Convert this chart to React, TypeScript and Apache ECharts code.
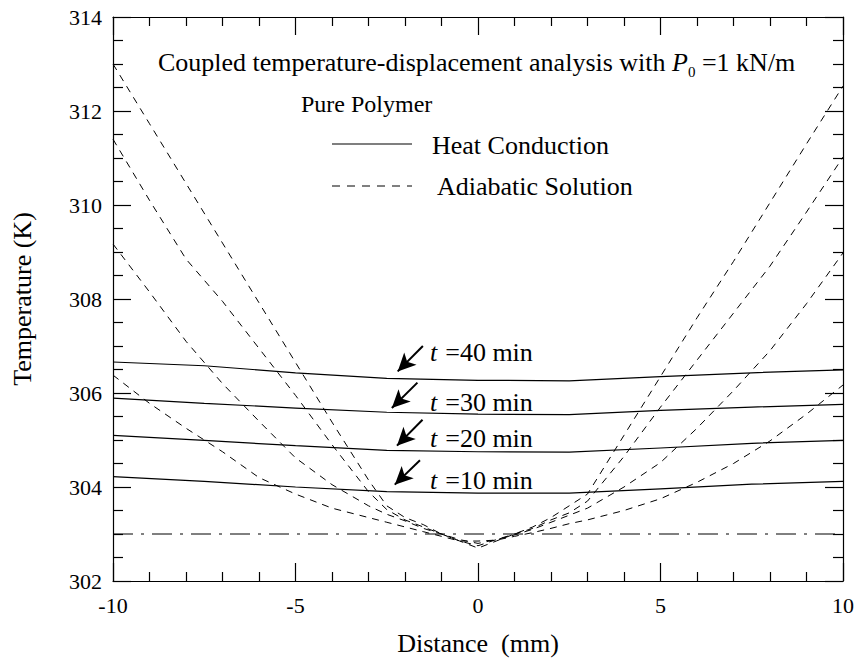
import React, { useEffect, useRef } from 'react';
import * as echarts from 'echarts';

const FONT = '"Liberation Serif", "Times New Roman", serif';

// Adiabatic solution (dashed) – sampled positions (mm)
const adiabaticX = [-10, -9, -8, -7, -6, -5, -4, -3, -2.5, -2, -1.5, -1, -0.5, 0, 0.5, 1, 1.5, 2, 2.5, 3, 4, 5, 6, 7, 8, 9, 10];
const adiabatic40 = [313.0, 311.73, 310.46, 309.19, 307.92, 306.65, 305.38, 304.15, 303.6, 303.35, 303.2, 303.0, 302.85, 302.7, 302.85, 303.0, 303.15, 303.35, 303.6, 303.85, 305.1, 306.35, 307.6, 308.8, 310.05, 311.3, 312.53];
const adiabatic30 = [311.4, 310.1, 308.85, 307.95, 306.95, 305.95, 304.9, 303.9, 303.52, 303.3, 303.15, 303.0, 302.85, 302.75, 302.88, 303.0, 303.12, 303.3, 303.45, 303.7, 304.65, 305.7, 306.7, 307.7, 308.7, 309.85, 311.02];
const adiabatic20 = [309.17, 308.15, 307.1, 306.2, 305.4, 304.62, 304.05, 303.6, 303.42, 303.28, 303.12, 303.0, 302.88, 302.8, 302.88, 302.98, 303.1, 303.25, 303.4, 303.55, 304.0, 304.52, 305.25, 306.05, 306.9, 307.9, 308.98];
const adiabatic10 = [306.38, 305.78, 305.25, 304.75, 304.2, 303.85, 303.55, 303.35, 303.25, 303.15, 303.05, 302.95, 302.85, 302.85, 302.87, 302.95, 303.03, 303.12, 303.22, 303.3, 303.5, 303.75, 304.1, 304.5, 304.98, 305.55, 306.17];

// Heat conduction (solid)
const conductionX = [-10, -7.5, -5, -2.5, 0, 2.5, 5, 7.5, 10];
const conduction10 = [304.22, 304.12, 304.0, 303.9, 303.87, 303.87, 303.96, 304.06, 304.12];
const conduction20 = [305.10, 304.99, 304.88, 304.78, 304.75, 304.74, 304.83, 304.93, 304.99];
const conduction30 = [305.89, 305.78, 305.68, 305.59, 305.55, 305.54, 305.63, 305.70, 305.76];
const conduction40 = [306.66, 306.58, 306.43, 306.31, 306.27, 306.26, 306.35, 306.43, 306.49];

// Initial temperature reference line
const initialX = [-10, 10];
const initialT = [303, 303];

// Arrow annotations (tail -> head, data units)
const arrowLabels = ['40', '30', '20', '10'];
const arrowTail = [[-1.51, 307.0], [-1.66, 306.22], [-1.52, 305.43], [-1.59, 304.57]];
const arrowHead = [[-2.2, 306.46], [-2.36, 305.68], [-2.22, 304.88], [-2.28, 304.05]];

const legendNames = ['Heat Conduction', 'Adiabatic Solution'];

const xTicks = { min: -10, max: 10, interval: 5 };
const yTicks = { min: 302, max: 314, interval: 2 };

const zip = (xs: number[], ys: number[]) => xs.map((x, i) => [x, ys[i]]);

export default function App() {
  const ref = useRef<HTMLDivElement>(null);
  useEffect(() => {
    const chart = echarts.init(ref.current!, null, { renderer: 'svg' });
    const axisCommon = {
      type: 'value' as const,
      axisLine: { show: true, onZero: false, lineStyle: { color: '#000', width: 1.2 } },
      axisTick: { show: true, inside: true, length: 18, lineStyle: { color: '#000', width: 1.2 } },
      splitLine: { show: false },
    };
    const solid = (ys: number[]) => ({
      type: 'line', name: legendNames[0], data: zip(conductionX, ys), symbol: 'none',
      lineStyle: { color: '#000', width: 1.2, type: 'solid' }, itemStyle: { color: '#000' }, z: 3,
    });
    const dashed = (ys: number[]) => ({
      type: 'line', name: legendNames[1], data: zip(adiabaticX, ys), symbol: 'none',
      lineStyle: { color: '#000', width: 1, type: [7, 6] }, itemStyle: { color: '#000' }, z: 2,
    });
    const textY = [352, 402, 438, 480];
    chart.setOption({
      animation: false,
      backgroundColor: '#fff',
      grid: { left: 113, top: 17, width: 730, height: 569, containLabel: false },
      xAxis: [
        {
          ...axisCommon, ...xTicks, position: 'bottom',
          minorTick: { show: true, splitNumber: 5, length: 9, lineStyle: { color: '#000', width: 1.2 } },
          axisLabel: { color: '#000', fontFamily: FONT, fontSize: 22, margin: 13 },
          name: 'Distance  (mm)', nameLocation: 'middle', nameGap: 49,
          nameTextStyle: { color: '#000', fontFamily: FONT, fontSize: 26 },
        },
        {
          ...axisCommon, ...xTicks, position: 'top',
          minorTick: { show: true, splitNumber: 5, length: 9, lineStyle: { color: '#000', width: 1.2 } },
          axisLabel: { show: false },
        },
      ],
      yAxis: [
        {
          ...axisCommon, ...yTicks, position: 'left',
          minorTick: { show: true, splitNumber: 4, length: 10, lineStyle: { color: '#000', width: 1.2 } },
          axisLabel: { color: '#000', fontFamily: FONT, fontSize: 22, margin: 11 },
          name: 'Temperature (K)', nameLocation: 'middle', nameGap: 78,
          nameTextStyle: { color: '#000', fontFamily: FONT, fontSize: 26 },
        },
        {
          ...axisCommon, ...yTicks, position: 'right',
          minorTick: { show: true, splitNumber: 4, length: 10, lineStyle: { color: '#000', width: 1.2 } },
          axisLabel: { show: false },
        },
      ],
      series: [
        solid(conduction10), solid(conduction20), solid(conduction30), solid(conduction40),
        dashed(adiabatic40), dashed(adiabatic30), dashed(adiabatic20), dashed(adiabatic10),
        {
          type: 'line', name: 'Initial', data: zip(initialX, initialT), symbol: 'none',
          lineStyle: { color: '#000', width: 1, type: [20, 8, 3, 8] }, z: 1,
          markLine: {
            silent: true, symbol: ['none', 'arrow'], symbolSize: [13, 18],
            lineStyle: { color: '#000', width: 2, type: 'solid' }, itemStyle: { color: '#000' },
            label: { show: false },
            data: arrowTail.map((t, i) => [{ coord: t }, { coord: arrowHead[i] }]),
          },
        },
      ],
      graphic: [
        {
          type: 'text', x: 158, y: 62,
          style: {
            text: '{n|Coupled temperature-displacement analysis with }{i|P}{s|0}{n| =1 kN/m}',
            verticalAlign: 'middle', align: 'left',
            rich: {
              n: { fontFamily: FONT, fontSize: 26, lineHeight: 34, fill: '#000' },
              i: { fontFamily: FONT, fontSize: 26, lineHeight: 34, fontStyle: 'italic', fill: '#000' },
              s: { fontFamily: FONT, fontSize: 15, lineHeight: 15, verticalAlign: 'bottom', fill: '#000' },
            },
          },
        },
        {
          type: 'text', x: 301, y: 104,
          style: { text: 'Pure Polymer', fontFamily: FONT, fontSize: 24, fill: '#000', verticalAlign: 'middle', align: 'left' },
        },
        { type: 'line', shape: { x1: 332, y1: 144, x2: 412, y2: 144 }, style: { stroke: '#000', lineWidth: 1.2 } },
        { type: 'line', shape: { x1: 332, y1: 186, x2: 412, y2: 186 }, style: { stroke: '#000', lineWidth: 1, lineDash: [8, 7] } },
        {
          type: 'text', x: 432, y: 145,
          style: { text: legendNames[0], fontFamily: FONT, fontSize: 26, fill: '#000', verticalAlign: 'middle', align: 'left' },
        },
        {
          type: 'text', x: 437, y: 186,
          style: { text: legendNames[1], fontFamily: FONT, fontSize: 26, fill: '#000', verticalAlign: 'middle', align: 'left' },
        },
        ...arrowLabels.map((lab, i) => ({
          type: 'text', x: 430, y: textY[i],
          style: {
            text: `{i|t}{n|=${lab} min}`, verticalAlign: 'middle', align: 'left',
            rich: {
              n: { fontFamily: FONT, fontSize: 26, fill: '#000' },
              i: { fontFamily: FONT, fontSize: 26, fontStyle: 'italic', fill: '#000', padding: [0, 8, 0, 0] },
            },
          },
        })),
      ],
    });
    return () => chart.dispose();
  }, []);
  return <div ref={ref} style={{ position: 'fixed', left: 0, top: 0, width: 859, height: 661, background: '#fff' }} />;
}
